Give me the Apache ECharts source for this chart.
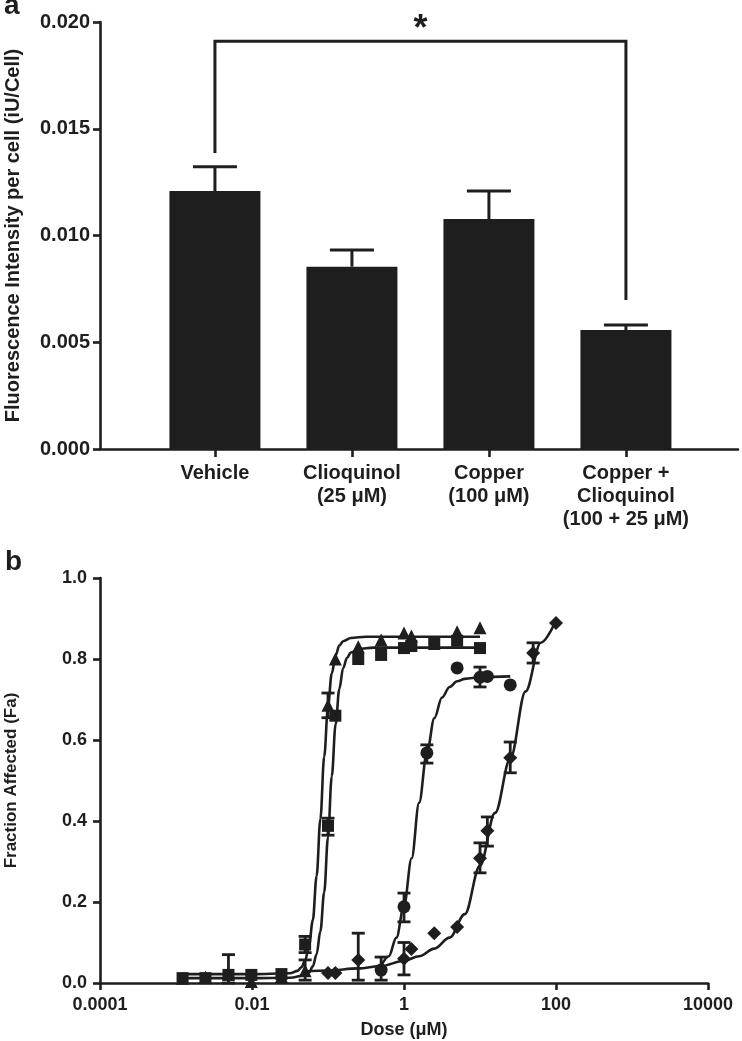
<!DOCTYPE html>
<html><head><meta charset="utf-8">
<script src="https://cdn.jsdelivr.net/npm/echarts@6/dist/echarts.min.js"></script>
<style>html,body{margin:0;padding:0;background:#fff}#c{width:742px;height:1041px}</style>
</head><body><div id="c"></div>
<script>
// ---- Panel a data ----
const categories = ['Vehicle', 'Clioquinol\n(25 μM)', 'Copper\n(100 μM)', 'Copper +\nClioquinol\n(100 + 25 μM)'];
const barValues = [0.01208, 0.00854, 0.01077, 0.00557];
const barErrors = [0.00114, 0.00078, 0.00131, 0.00024];
const yTicksA = [0, 0.005, 0.010, 0.015, 0.020];
const bracketX = [0, 3];
const bracketEnds = [0.01386, 0.00698];
const bracketTop = 0.0191;
const asteriskPos = [1.5, 0.0196];

// ---- Panel b data ----
const triDose = [0.00122, 0.00244, 0.0049, 0.0098, 0.0244, 0.05, 0.1, 0.125, 0.25, 0.5, 1, 1.25, 5, 10];
const triFa   = [0.012, 0.014, 0.022, 0.004, 0.016, 0.03, 0.686, 0.80, 0.83, 0.847, 0.864, 0.857, 0.867, 0.877];
const sqDose  = [0.00122, 0.00244, 0.0049, 0.0098, 0.0244, 0.05, 0.1, 0.125, 0.25, 0.5, 1, 1.25, 2.5, 5, 10];
const sqFa    = [0.012, 0.012, 0.02, 0.02, 0.022, 0.095, 0.388, 0.66, 0.80, 0.81, 0.827, 0.832, 0.837, 0.845, 0.827];
const circDose = [0.5, 1, 2, 5, 10, 12.5, 25];
const circFa   = [0.032, 0.188, 0.568, 0.778, 0.755, 0.757, 0.736];
const diaDose  = [0.1, 0.125, 0.25, 1, 1.25, 2.5, 5, 10, 12.5, 25, 50, 100];
const diaFa    = [0.025, 0.025, 0.057, 0.06, 0.084, 0.123, 0.138, 0.308, 0.376, 0.556, 0.815, 0.889];

// error bars: [dose, low, high]
const triErr  = [[0.0049, 0.0, 0.07], [0.05, 0.007, 0.057], [0.1, 0.655, 0.716]];
const sqErr   = [[0.05, 0.075, 0.115], [0.1, 0.365, 0.407]];
const circErr = [[0.5, 0.007, 0.064], [1, 0.151, 0.222], [2, 0.543, 0.588], [10, 0.731, 0.78]];
const diaErr  = [[0.25, 0.007, 0.123], [1, 0.02, 0.1], [10, 0.272, 0.346], [12.5, 0.338, 0.41], [25, 0.519, 0.595], [50, 0.79, 0.84]];

// fitted curves
const triCurveDose = [0.00122, 0.01, 0.0316, 0.0398, 0.0447, 0.0501, 0.0562, 0.0631, 0.0708, 0.0794, 0.0891, 0.1, 0.112, 0.126, 0.141, 0.158, 0.2, 0.316, 10];
const triCurveFa   = [0.022, 0.022, 0.024, 0.030, 0.039, 0.056, 0.091, 0.155, 0.264, 0.405, 0.559, 0.683, 0.764, 0.809, 0.833, 0.844, 0.852, 0.855, 0.855];
const sqCurveDose = [0.00122, 0.01, 0.0316, 0.0501, 0.0562, 0.0631, 0.0708, 0.0794, 0.0891, 0.1, 0.112, 0.126, 0.141, 0.158, 0.178, 0.2, 0.251, 0.4, 10];
const sqCurveFa   = [0.012, 0.012, 0.013, 0.019, 0.026, 0.041, 0.071, 0.128, 0.224, 0.36, 0.51, 0.639, 0.726, 0.777, 0.803, 0.816, 0.825, 0.828, 0.828];
const circCurveDose = [0.5, 0.631, 0.794, 1, 1.26, 1.58, 2.0, 2.51, 3.16, 3.98, 5.01, 6.31, 10, 25];
const circCurveFa   = [0.042, 0.066, 0.112, 0.191, 0.308, 0.445, 0.568, 0.654, 0.705, 0.731, 0.745, 0.751, 0.755, 0.757];
const diaCurveDose = [0.05, 0.1, 0.25, 0.5, 1, 1.58, 2.51, 3.98, 6.31, 10, 15.8, 25.1, 39.8, 63.1, 100];
const diaCurveFa   = [0.029, 0.031, 0.036, 0.042, 0.055, 0.066, 0.085, 0.112, 0.17, 0.29, 0.42, 0.555, 0.72, 0.84, 0.895];

const xTicksB = [0.0001, 0.01, 1, 100, 10000];

// ---- build ----
const INK = '#1e1e1e';
const FONT = 'Liberation Sans';
const zip = (a, b) => a.map((v, i) => [v, b[i]]);

const chart = echarts.init(document.getElementById('c'), null, {renderer: 'canvas'});

function errRenderB(params, api) {
  const x = api.value(0), lo = api.value(1), hi = api.value(2);
  const p1 = api.coord([x, lo]), p2 = api.coord([x, hi]);
  const w = 6.5;
  const st = {stroke: INK, lineWidth: 2.8};
  return {type: 'group', children: [
    {type: 'line', shape: {x1: p1[0], y1: p1[1], x2: p2[0], y2: p2[1]}, style: st},
    {type: 'line', shape: {x1: p1[0] - w, y1: p1[1], x2: p1[0] + w, y2: p1[1]}, style: st},
    {type: 'line', shape: {x1: p2[0] - w, y1: p2[1], x2: p2[0] + w, y2: p2[1]}, style: st}
  ]};
}

const axisLineStyle = {color: INK, width: 2.6};
const labelStyleA = {color: INK, fontFamily: FONT, fontWeight: 'bold', fontSize: 20};
const labelStyleB = {color: INK, fontFamily: FONT, fontWeight: 'bold', fontSize: 18};

const option = {
  animation: false,
  backgroundColor: '#fff',
  graphic: [
    {type: 'text', left: 4, top: -8, style: {text: 'a', font: 'bold 28px ' + FONT, fill: INK}},
    {type: 'text', left: 5, top: 548, style: {text: 'b', font: 'bold 28px ' + FONT, fill: INK}}
  ],
  grid: [
    {left: 100, top: 22, width: 638, height: 427, containLabel: false, outerBoundsMode: 'none'},
    {left: 100, top: 578, width: 608, height: 405, containLabel: false, outerBoundsMode: 'none'}
  ],
  xAxis: [
    {
      type: 'value', gridIndex: 0, min: -0.839, max: 3.818,
      axisLine: {show: true, onZero: false, lineStyle: axisLineStyle},
      axisTick: {show: true, length: 8, lineStyle: axisLineStyle, customValues: [0, 1, 2, 3]},
      axisLabel: Object.assign({margin: 13, lineHeight: 23, customValues: [0, 1, 2, 3],
        formatter: v => categories[Math.round(v)]}, labelStyleA),
      splitLine: {show: false}
    },
    {
      type: 'log', gridIndex: 1, logBase: 10, min: xTicksB[0], max: xTicksB[xTicksB.length - 1], interval: 2,
      axisLine: {show: true, onZero: false, lineStyle: axisLineStyle},
      axisTick: {show: true, length: 7, lineStyle: axisLineStyle},
      minorTick: {show: false},
      axisLabel: Object.assign({margin: 13, formatter: v => {
        const e = Math.round(Math.log10(v));
        return e < 0 ? Math.pow(10, e).toFixed(-e) : String(Math.round(Math.pow(10, e)));
      }}, labelStyleB),
      splitLine: {show: false},
      name: 'Dose (μM)', nameLocation: 'middle', nameGap: 38,
      nameTextStyle: {color: INK, fontFamily: FONT, fontWeight: 'bold', fontSize: 18}
    }
  ],
  yAxis: [
    {
      type: 'value', gridIndex: 0, min: yTicksA[0], max: yTicksA[yTicksA.length - 1], interval: 0.005,
      axisLine: {show: true, onZero: false, lineStyle: axisLineStyle},
      axisTick: {show: true, length: 7, lineStyle: axisLineStyle},
      axisLabel: Object.assign({margin: 10, formatter: v => v.toFixed(3)}, labelStyleA),
      splitLine: {show: false},
      name: 'Fluorescence Intensity per cell (iU/Cell)', nameLocation: 'middle', nameGap: 77,
      nameTextStyle: {color: INK, fontFamily: FONT, fontWeight: 'bold', fontSize: 20}
    },
    {
      type: 'value', gridIndex: 1, min: 0, max: 1, interval: 0.2,
      axisLine: {show: true, onZero: false, lineStyle: axisLineStyle},
      axisTick: {show: true, length: 7, lineStyle: axisLineStyle},
      axisLabel: Object.assign({margin: 13, formatter: v => v.toFixed(1)}, labelStyleB),
      splitLine: {show: false},
      name: 'Fraction Affected (Fa)', nameLocation: 'middle', nameGap: 80,
      nameTextStyle: {color: INK, fontFamily: FONT, fontWeight: 'bold', fontSize: 17}
    }
  ],
  series: [
    // Panel a bars (drawn through the axis scale)
    {
      type: 'custom', xAxisIndex: 0, yAxisIndex: 0,
      data: barValues.map((v, i) => [i, v]),
      renderItem: (params, api) => {
        const b = api.coord([api.value(0), 0]), t = api.coord([api.value(0), api.value(1)]);
        const w = 91;
        return {type: 'rect', shape: {x: b[0] - w / 2, y: t[1], width: w, height: b[1] - t[1]}, style: {fill: INK}};
      }
    },
    // Panel a error bars
    {
      type: 'custom', xAxisIndex: 0, yAxisIndex: 0,
      data: barValues.map((v, i) => [i, v, barErrors[i]]),
      renderItem: (params, api) => {
        const i = api.value(0), v = api.value(1), e = api.value(2);
        const b = api.coord([i, v]), t = api.coord([i, v + e]);
        const st = {stroke: INK, lineWidth: 3};
        return {type: 'group', children: [
          {type: 'line', shape: {x1: b[0], y1: b[1], x2: t[0], y2: t[1]}, style: st},
          {type: 'line', shape: {x1: t[0] - 22, y1: t[1], x2: t[0] + 22, y2: t[1]}, style: st}
        ]};
      }
    },
    // Panel a significance bracket
    {
      type: 'custom', xAxisIndex: 0, yAxisIndex: 0,
      data: [[bracketX[0], bracketEnds[0], bracketX[1], bracketEnds[1], bracketTop]],
      renderItem: (params, api) => {
        const a = api.coord([api.value(0), api.value(1)]);
        const at = api.coord([api.value(0), api.value(4)]);
        const b = api.coord([api.value(2), api.value(3)]);
        const bt = api.coord([api.value(2), api.value(4)]);
        const s = api.coord(asteriskPos);
        return {type: 'group', children: [
          {type: 'polyline', shape: {points: [a, at, bt, b]}, style: {stroke: INK, lineWidth: 3, fill: null}},
          {type: 'text', x: s[0], y: s[1], style: {text: '*', font: 'bold 36px ' + FONT, fill: INK, align: 'center', verticalAlign: 'middle'}}
        ]};
      }
    },
    // Panel b curves
    ...[[triCurveDose, triCurveFa], [sqCurveDose, sqCurveFa], [circCurveDose, circCurveFa], [diaCurveDose, diaCurveFa]].map(([d, f]) => ({
      type: 'line', xAxisIndex: 1, yAxisIndex: 1, data: zip(d, f), showSymbol: false,
      smooth: 0.35, smoothMonotone: 'x', lineStyle: {color: INK, width: 2.6}, z: 2
    })),
    // Panel b markers
    ...[[triDose, triFa, 'triangle', 13], [sqDose, sqFa, 'rect', 12], [circDose, circFa, 'circle', 13], [diaDose, diaFa, 'diamond', 14]].map(([d, f, sym, sz]) => ({
      type: 'scatter', xAxisIndex: 1, yAxisIndex: 1, data: zip(d, f), symbol: sym, symbolSize: sz,
      itemStyle: {color: INK, opacity: 1}, z: 3
    })),
    // Panel b error bars
    ...[triErr, sqErr, circErr, diaErr].map(e => ({
      type: 'custom', xAxisIndex: 1, yAxisIndex: 1, data: e, renderItem: errRenderB, z: 4
    }))
  ]
};
chart.setOption(option);
</script>
</body></html>
